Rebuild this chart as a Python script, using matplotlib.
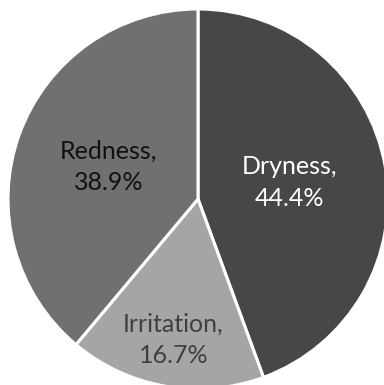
import matplotlib
matplotlib.use("Agg")
import matplotlib.pyplot as plt
import numpy as np

categories = ["Dryness", "Irritation", "Redness"]
values = [44.4, 16.7, 38.9]
pct_labels = ["44.4%", "16.7%", "38.9%"]
colors = ["#474747", "#a5a5a5", "#707070"]
text_colors = ["#ffffff", "#404040", "#111111"]
label_radius = [0.49, 0.75, 0.50]

plt.rcParams['font.family'] = ['Lato', 'DejaVu Sans']

fig = plt.figure(figsize=(3.84, 3.85), dpi=100)
ax = fig.add_axes([8/384, -4/385, 380/384, 380/385])
wedges, _ = ax.pie(values, colors=colors, startangle=90, counterclock=False,
                   wedgeprops=dict(edgecolor="white", linewidth=2.2))
for w, cat, pct, tc, r in zip(wedges, categories, pct_labels, text_colors, label_radius):
    ang = np.deg2rad((w.theta1 + w.theta2) / 2)
    ax.text(r * np.cos(ang), r * np.sin(ang), f"{cat},\n{pct}", ha="center", va="center",
            color=tc, fontsize=18, linespacing=1.45)
ax.set_xlim(-1, 1)
ax.set_ylim(-1, 1)
ax.set_aspect("equal")
ax.axis("off")
fig.savefig("out.png", dpi=100)
